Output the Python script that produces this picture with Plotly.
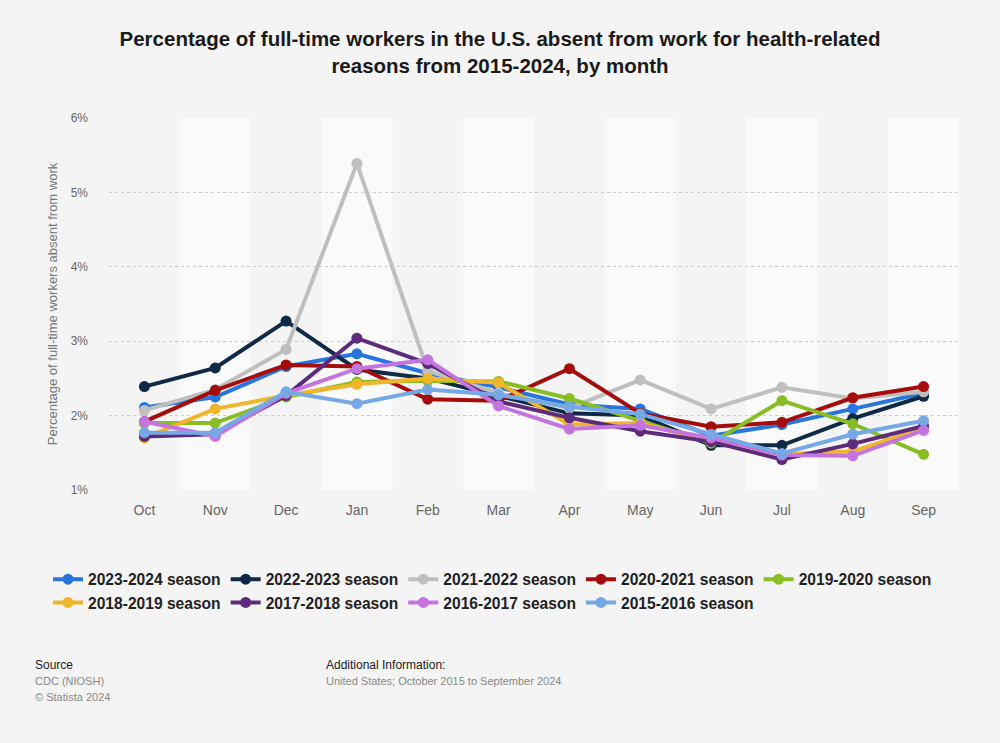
import plotly.graph_objects as go

months = ["Oct", "Nov", "Dec", "Jan", "Feb", "Mar", "Apr", "May", "Jun", "Jul", "Aug", "Sep"]

s2023_2024 = [2.11, 2.25, 2.66, 2.83, 2.57, 2.38, 2.15, 2.09, 1.73, 1.88, 2.09, 2.30]
s2022_2023 = [2.39, 2.64, 3.27, 2.62, 2.50, 2.27, 2.03, 2.00, 1.60, 1.60, 1.96, 2.26]
s2021_2022 = [2.07, 2.35, 2.89, 5.39, 2.60, 2.30, 2.10, 2.48, 2.09, 2.38, 2.23, 2.32]
s2020_2021 = [1.92, 2.34, 2.68, 2.66, 2.22, 2.20, 2.63, 2.03, 1.85, 1.91, 2.24, 2.39]
s2019_2020 = [1.90, 1.90, 2.25, 2.45, 2.47, 2.46, 2.23, 1.93, 1.63, 2.20, 1.89, 1.48]
s2018_2019 = [1.70, 2.09, 2.27, 2.42, 2.50, 2.44, 1.88, 1.90, 1.65, 1.48, 1.52, 1.83]
s2017_2018 = [1.72, 1.75, 2.27, 3.04, 2.70, 2.19, 1.97, 1.79, 1.65, 1.41, 1.62, 1.86]
s2016_2017 = [1.92, 1.72, 2.30, 2.63, 2.75, 2.13, 1.82, 1.87, 1.70, 1.47, 1.46, 1.80]
s2015_2016 = [1.77, 1.77, 2.32, 2.16, 2.35, 2.28, 2.12, 2.02, 1.75, 1.49, 1.75, 1.93]

series_names = ["2023-2024 season", "2022-2023 season", "2021-2022 season", "2020-2021 season",
                "2019-2020 season", "2018-2019 season", "2017-2018 season", "2016-2017 season",
                "2015-2016 season"]
series_values = [s2023_2024, s2022_2023, s2021_2022, s2020_2021, s2019_2020,
                 s2018_2019, s2017_2018, s2016_2017, s2015_2016]
colors = ["#2876dd", "#0e2a47", "#bfbfbf", "#a50d0d", "#88bd24",
          "#f0b62b", "#5c2b7b", "#c474de", "#76a8e6"]

y_ticks = [1, 2, 3, 4, 5, 6]
y_tick_labels = ["1%", "2%", "3%", "4%", "5%", "6%"]

FONT = "Liberation Sans, Arial, sans-serif"
fig = go.Figure()

# alternating column bands
for i in range(len(months)):
    if i % 2 == 1:
        fig.add_shape(type="rect", xref="x", yref="paper", x0=i - 0.5, x1=i + 0.5, y0=0, y1=1,
                      fillcolor="#fafafa", line_width=0, layer="below")

for name, vals, col in zip(series_names, series_values, colors):
    fig.add_trace(go.Scatter(
        x=months, y=vals, name=name, mode="lines+markers",
        line=dict(color=col, width=4),
        marker=dict(color=col, size=11),
    ))

L, R, T, B = 109, 41, 118, 253
W, H = 1000, 743
plot_w = W - L - R
plot_h = H - T - B

fig.update_layout(
    width=W, height=H,
    paper_bgcolor="#f4f4f4", plot_bgcolor="#f4f4f4",
    margin=dict(l=L, r=R, t=T, b=B),
    title=dict(
        text="<b>Percentage of full-time workers in the U.S. absent from work for health-related<br>reasons from 2015-2024, by month</b>",
        x=0.5, xanchor="center", y=1 - 46 / H, yanchor="middle",
        font=dict(family=FONT, size=20.5, color="#1a1a1a"),
    ),
    font=dict(family=FONT),
    showlegend=True,
    legend=dict(
        orientation="h", x=(48 - L) / plot_w, xanchor="left", y=-0.195, yanchor="top",
        font=dict(size=15.6, color="#222222", family=FONT, weight="bold"),
        bgcolor="rgba(0,0,0,0)", itemwidth=30, tracegroupgap=0,
    ),
    xaxis=dict(
        type="category", categoryorder="array", categoryarray=months,
        range=[-0.5, 11.5], showgrid=False, zeroline=False, showline=False,
        ticks="", tickfont=dict(size=14, color="#666666"), ticklabelstandoff=10,
    ),
    yaxis=dict(
        range=[1, 6], tickvals=y_ticks, ticktext=y_tick_labels,
        showgrid=True, gridcolor="#cccccc", griddash="dot", gridwidth=1,
        zeroline=False, showline=False, ticks="",
        tickfont=dict(size=12, color="#666666"), ticklabelstandoff=20,
        title=dict(text="Percentage of full-time workers absent from work",
                   font=dict(size=13, color="#777777"), standoff=10),
    ),
)

annots = [
    dict(text="Source", x=33, y=665, size=12, color="#222222"),
    dict(text="CDC (NIOSH)", x=33, y=681, size=11, color="#888888"),
    dict(text="© Statista 2024", x=33, y=697, size=11, color="#888888"),
    dict(text="Additional Information:", x=324, y=665, size=12, color="#222222"),
    dict(text="United States; October 2015 to September 2024", x=324, y=681, size=11, color="#888888"),
]
for a in annots:
    fig.add_annotation(
        text=a["text"], showarrow=False, xref="paper", yref="paper",
        x=(a["x"] - L) / plot_w, y=(H - B - a["y"]) / plot_h,
        xanchor="left", yanchor="middle",
        font=dict(size=a["size"], color=a["color"], family=FONT),
    )

fig.write_html("out.html", config={"displayModeBar": False},
               post_script="document.body.style.margin='0';document.body.style.background='#f4f4f4';")
